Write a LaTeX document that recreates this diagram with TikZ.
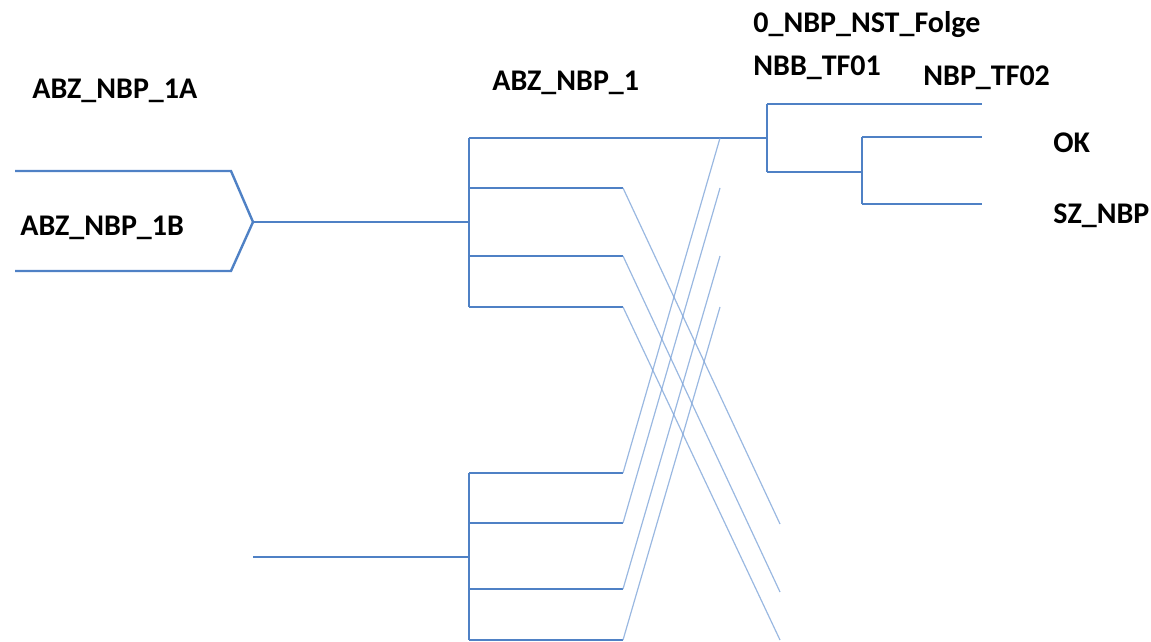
\documentclass[tikz,border=0pt]{standalone}
\usepackage{fontspec}
\setmainfont{Carlito}
\definecolor{wire}{RGB}{79,129,197}
\definecolor{cross}{RGB}{120,160,215}
\tikzset{
  wireline/.style={draw=wire, line width=1.2pt},
  crossline/.style={draw=cross, line width=0.6pt, opacity=0.75},
  lbl/.style={font=\bfseries\fontsize{15}{17}\selectfont, text=black, inner sep=0pt, anchor=base west}
}
\begin{document}
\begin{tikzpicture}[x=0.5pt,y=-0.5pt]
\useasboundingbox (0,0) rectangle (1151,642);
% labels
\node[lbl] (l1a) at (32,99) {ABZ\_NBP\_1A};
\node[lbl] (l1b) at (20,235) {ABZ\_NBP\_1B};
\node[lbl] (l1) at (492,91) {ABZ\_NBP\_1};
\node[lbl] (lfolge) at (753,33) {0\_NBP\_NST\_Folge};
\node[lbl] (ltf01) at (753,76) {NBB\_TF01};
\node[lbl] (ltf02) at (923,86) {NBP\_TF02};
\node[lbl] (lok) at (1053,153) {OK};
\node[lbl] (lsz) at (1053,223) {SZ\_NBP};
% coordinates
\coordinate (pTL) at (15,171);
\coordinate (pTR) at (231,171);
\coordinate (pTip) at (253,222);
\coordinate (pBR) at (231,271);
\coordinate (pBL) at (15,271);
\coordinate (b1top) at (469,138);
\coordinate (b1mid) at (469,222);
\coordinate (b1bot) at (469,307);
\coordinate (u2) at (469,188);
\coordinate (u3) at (469,256);
\coordinate (u2e) at (623,188);
\coordinate (u3e) at (623,256);
\coordinate (u4e) at (623,307);
\coordinate (d1) at (780,524);
\coordinate (d2) at (780,592);
\coordinate (d3) at (780,640);
\coordinate (t1) at (767,138);
\coordinate (t1top) at (767,104);
\coordinate (t1bot) at (767,172);
\coordinate (tf02end) at (982,104);
\coordinate (t2) at (862,172);
\coordinate (t2top) at (862,137);
\coordinate (t2bot) at (862,204);
\coordinate (okend) at (982,137);
\coordinate (szend) at (982,204);
\coordinate (in2) at (253,557);
\coordinate (b2top) at (469,473);
\coordinate (b2mid) at (469,557);
\coordinate (b2bot) at (469,640);
\coordinate (v1) at (623,473);
\coordinate (v2) at (623,523);
\coordinate (v3) at (623,589);
\coordinate (v4) at (623,640);
\coordinate (w1) at (720,138);
\coordinate (w2) at (720,188);
\coordinate (w3) at (720,256);
\coordinate (w4) at (720,307);
% pentagon
\draw[wireline] (pTL) -- (pTR) -- (pTip) -- (pBR) -- (pBL);
\draw[wireline] (pTip) -- (b1mid);
% upper bus
\draw[wireline] (b1top) -- (b1bot);
\draw[wireline] (b1top) -- (t1);
\draw[wireline] (u2) -- (u2e);
\draw[wireline] (u3) -- (u3e);
\draw[wireline] (b1bot) -- (u4e);
% tree
\draw[wireline] (t1top) -- (t1bot);
\draw[wireline] (t1top) -- (tf02end);
\draw[wireline] (t1bot) -- (t2);
\draw[wireline] (t2top) -- (t2bot);
\draw[wireline] (t2top) -- (okend);
\draw[wireline] (t2bot) -- (szend);
% lower bus
\draw[wireline] (in2) -- (b2mid);
\draw[wireline] (b2top) -- (b2bot);
\draw[wireline] (b2top) -- (v1);
\draw[wireline] (469,523) -- (v2);
\draw[wireline] (469,589) -- (v3);
\draw[wireline] (b2bot) -- (v4);
% crossing lines
\draw[crossline] (u2e) -- (d1);
\draw[crossline] (u3e) -- (d2);
\draw[crossline] (u4e) -- (d3);
\draw[crossline] (v1) -- (w1);
\draw[crossline] (v2) -- (w2);
\draw[crossline] (v3) -- (w3);
\draw[crossline] (v4) -- (w4);
\end{tikzpicture}
\end{document}
